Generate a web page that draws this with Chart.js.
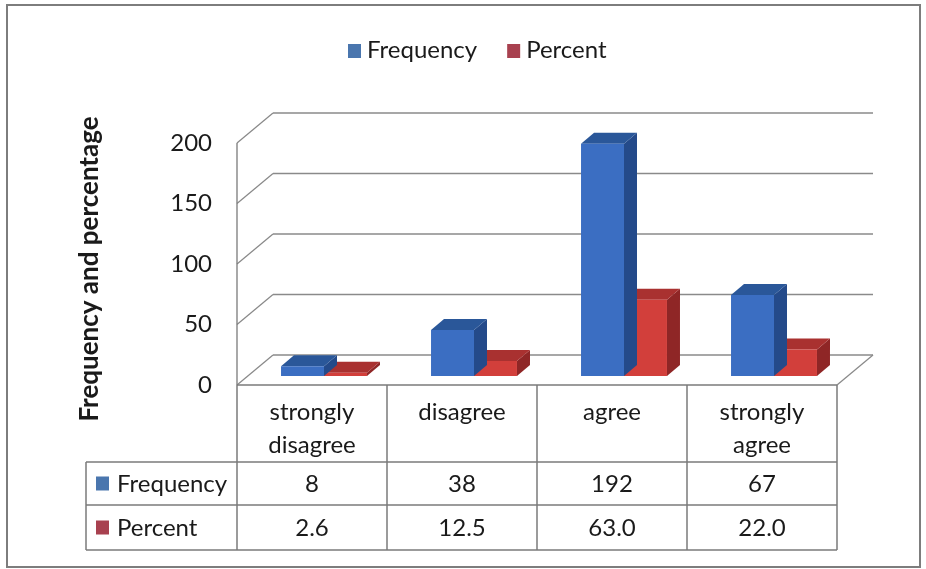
<!DOCTYPE html>
<html>
<head>
<meta charset="utf-8">
<script src="https://cdn.jsdelivr.net/npm/chart.js@4/dist/chart.umd.min.js"></script>
<style>
  html, body { margin: 0; padding: 0; background: #ffffff; }
  #wrap { position: relative; width: 926px; height: 569px; }
  canvas { display: block; }
</style>
</head>
<body>
<div id="wrap"><canvas id="chart" width="926" height="569"></canvas></div>
<script>
// Survey responses: counts and share of respondents per answer
const categories = [['strongly', 'disagree'], ['disagree'], ['agree'], ['strongly', 'agree']];
const frequency = [8, 38, 192, 67];
const percent = [2.6, 12.5, 63.0, 22.0];
const seriesNames = ['Frequency', 'Percent'];
const yTicks = [0, 50, 100, 150, 200];
const axisTitle = 'Frequency and percentage';

const FONT = 'Lato, "Open Sans", sans-serif';
const INK = '#1a1a1a';
const GRID = '#8a8a8a';
const TABLE_LINE = '#7a7a7a';

// Colours for the three visible faces of each column
const faces = [
  { front: '#3b6ec2', top: '#2a5799', side: '#244a8a', key: '#4a76ae' },
  { front: '#d23f3b', top: '#a93130', side: '#8f2626', key: '#a8414f' }
];

// Perspective offsets (pixels) relative to the plane of the column fronts
const FLOOR_FRONT = { dx: -12, dy: 9 };
const FLOOR_BACK = { dx: 24, dy: -21 };
const BAR_DEPTH = { dx: 13, dy: 11 };

// Table row boundaries
const ROW_CAT_BOTTOM = 462;
const ROW_FREQ_BOTTOM = 505;
const ROW_PCT_BOTTOM = 550;
const TABLE_LEFT = 86;

function poly(ctx, pts, fill) {
  ctx.beginPath();
  ctx.moveTo(pts[0][0], pts[0][1]);
  for (let i = 1; i < pts.length; i++) ctx.lineTo(pts[i][0], pts[i][1]);
  ctx.closePath();
  ctx.fillStyle = fill;
  ctx.fill();
}

function line(ctx, x1, y1, x2, y2) {
  ctx.beginPath();
  ctx.moveTo(x1, y1);
  ctx.lineTo(x2, y2);
  ctx.stroke();
}

const scene3d = {
  id: 'scene3d',
  beforeDatasetsDraw(chart) {
    const ctx = chart.ctx;
    const area = chart.chartArea;
    const y = chart.scales.y;
    const x = chart.scales.x;
    ctx.save();

    // outer frame
    ctx.strokeStyle = '#7d7d7d';
    ctx.lineWidth = 2;
    ctx.strokeRect(7, 5, 913, 562);

    // legend
    ctx.font = '24px ' + FONT;
    ctx.textBaseline = 'middle';
    ctx.textAlign = 'left';
    let lx = 348;
    seriesNames.forEach((name, i) => {
      ctx.fillStyle = faces[i].key;
      ctx.fillRect(lx, 44, 13, 14);
      ctx.fillStyle = INK;
      ctx.fillText(name, lx + 19, 50);
      lx += 19 + ctx.measureText(name).width + 30;
    });

    // axis title
    ctx.save();
    ctx.translate(90, 269);
    ctx.rotate(-Math.PI / 2);
    ctx.font = 'bold 26px ' + FONT;
    ctx.textAlign = 'center';
    ctx.textBaseline = 'middle';
    ctx.fillStyle = INK;
    ctx.fillText(axisTitle, 0, 0);
    ctx.restore();

    const base = y.getPixelForValue(0);
    const fl = area.left + FLOOR_FRONT.dx, fr = area.right + FLOOR_FRONT.dx;
    const bl = area.left + FLOOR_BACK.dx, br = area.right + FLOOR_BACK.dx;

    // floor
    poly(ctx, [[fl, base + FLOOR_FRONT.dy], [bl, base + FLOOR_BACK.dy],
               [br, base + FLOOR_BACK.dy], [fr, base + FLOOR_FRONT.dy]], '#ffffff');

    // gridlines on side wall and back wall
    ctx.strokeStyle = GRID;
    ctx.lineWidth = 1.3;
    yTicks.forEach(v => {
      const py = y.getPixelForValue(v);
      line(ctx, fl, py + FLOOR_FRONT.dy, bl, py + FLOOR_BACK.dy);
      line(ctx, bl, py + FLOOR_BACK.dy, br, py + FLOOR_BACK.dy);
    });
    // right edge of floor
    line(ctx, fr, base + FLOOR_FRONT.dy, br, base + FLOOR_BACK.dy);
    // front edge of side wall
    ctx.strokeStyle = TABLE_LINE;
    line(ctx, fl, y.getPixelForValue(yTicks[yTicks.length - 1]) + FLOOR_FRONT.dy, fl, base + FLOOR_FRONT.dy);

    // value axis labels
    ctx.font = '24px ' + FONT;
    ctx.fillStyle = INK;
    ctx.textAlign = 'right';
    ctx.textBaseline = 'middle';
    yTicks.forEach(v => {
      ctx.fillText(String(v), fl - 25, y.getPixelForValue(v) + FLOOR_FRONT.dy);
    });

    // data table
    const top = base + FLOOR_FRONT.dy;
    const catW = (area.right - area.left) / categories.length;
    ctx.strokeStyle = TABLE_LINE;
    ctx.lineWidth = 1.5;
    line(ctx, fl, top, fr, top);
    line(ctx, TABLE_LEFT, ROW_CAT_BOTTOM, fr, ROW_CAT_BOTTOM);
    line(ctx, TABLE_LEFT, ROW_FREQ_BOTTOM, fr, ROW_FREQ_BOTTOM);
    line(ctx, TABLE_LEFT, ROW_PCT_BOTTOM, fr, ROW_PCT_BOTTOM);
    line(ctx, TABLE_LEFT, ROW_CAT_BOTTOM, TABLE_LEFT, ROW_PCT_BOTTOM);
    for (let i = 0; i <= categories.length; i++) {
      const cx = area.left + FLOOR_FRONT.dx + i * catW;
      line(ctx, cx, top, cx, ROW_PCT_BOTTOM);
    }

    ctx.fillStyle = INK;
    ctx.textAlign = 'center';
    ctx.textBaseline = 'middle';
    categories.forEach((lab, i) => {
      const cx = x.getPixelForValue(i) + FLOOR_FRONT.dx;
      lab.forEach((ln, k) => ctx.fillText(ln, cx, 412 + k * 33));
      ctx.fillText(String(frequency[i]), cx, (ROW_CAT_BOTTOM + ROW_FREQ_BOTTOM) / 2 + 1);
      ctx.fillText(percent[i].toFixed(1), cx, (ROW_FREQ_BOTTOM + ROW_PCT_BOTTOM) / 2 + 1);
    });

    // row headers
    ctx.textAlign = 'left';
    const rowMid = [(ROW_CAT_BOTTOM + ROW_FREQ_BOTTOM) / 2, (ROW_FREQ_BOTTOM + ROW_PCT_BOTTOM) / 2];
    seriesNames.forEach((name, i) => {
      ctx.fillStyle = faces[i].key;
      ctx.fillRect(96, rowMid[i] - 7, 13, 14);
      ctx.fillStyle = INK;
      ctx.fillText(name, 117, rowMid[i] + 1);
    });

    ctx.restore();
  },
  beforeDatasetDraw(chart, args) {
    // top and right faces of each column, drawn just before its front face
    const ctx = chart.ctx;
    const meta = args.meta;
    const f = faces[args.index];
    ctx.save();
    meta.data.forEach(bar => {
      const p = bar.getProps(['x', 'y', 'base', 'width'], true);
      const l = p.x - p.width / 2, r = p.x + p.width / 2;
      const t = p.y, b = p.base;
      poly(ctx, [[r, t], [r + BAR_DEPTH.dx, t - BAR_DEPTH.dy],
                 [r + BAR_DEPTH.dx, b - BAR_DEPTH.dy], [r, b]], f.side);
      poly(ctx, [[l, t], [l + BAR_DEPTH.dx, t - BAR_DEPTH.dy],
                 [r + BAR_DEPTH.dx, t - BAR_DEPTH.dy], [r, t]], f.top);
    });
    ctx.restore();
  }
};

new Chart(document.getElementById('chart'), {
  type: 'bar',
  data: {
    labels: categories,
    datasets: [
      { label: seriesNames[0], data: frequency, backgroundColor: faces[0].front, borderWidth: 0 },
      { label: seriesNames[1], data: percent, backgroundColor: faces[1].front, borderWidth: 0 }
    ]
  },
  options: {
    responsive: false,
    animation: false,
    events: [],
    layout: { padding: { left: 249, right: 77, top: 134, bottom: 193 } },
    datasets: { bar: { barPercentage: 1, categoryPercentage: 0.573 } },
    plugins: { legend: { display: false }, tooltip: { enabled: false }, title: { display: false } },
    scales: {
      x: { display: false },
      y: { display: false, min: 0, max: 200 }
    }
  },
  plugins: [scene3d]
});
</script>
</body>
</html>
